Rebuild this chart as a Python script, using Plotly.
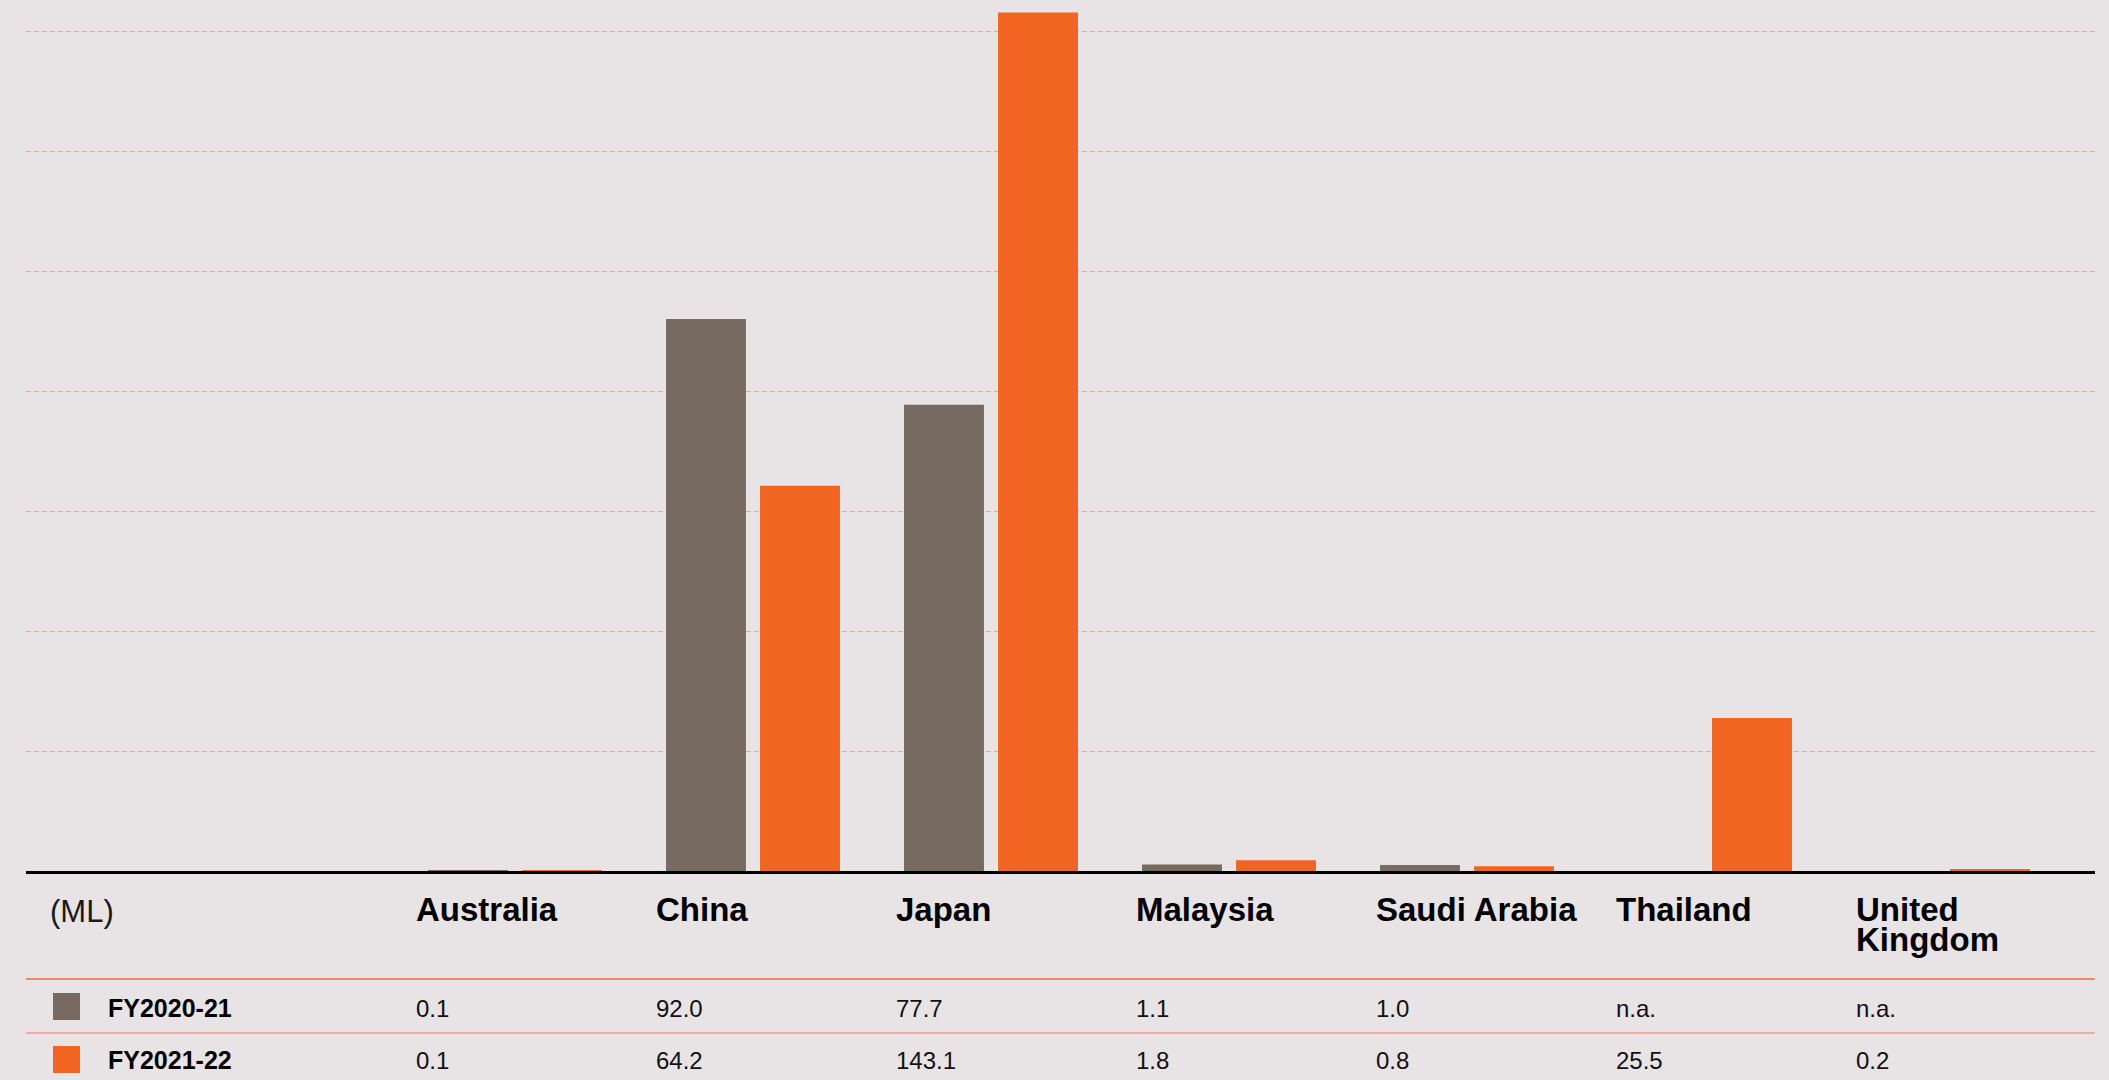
import plotly.graph_objects as go

# ---- data ----
countries = ["Australia", "China", "Japan", "Malaysia", "Saudi Arabia", "Thailand", "United Kingdom"]
header_labels = ["Australia", "China", "Japan", "Malaysia", "Saudi Arabia", "Thailand", "United<br>Kingdom"]
series_names = ["FY2020-21", "FY2021-22"]
fy2021 = [0.1, 92.0, 77.7, 1.1, 1.0, None, None]
fy2122 = [0.1, 64.2, 143.1, 1.8, 0.8, 25.5, 0.2]
unit_label = "(ML)"

# ---- style ----
W, H = 2109, 1080
BG = "#e8e3e5"
GREY = "#766a61"
ORANGE = "#f26422"
FONT = "Liberation Sans, Arial, Helvetica, sans-serif"

def px_x(p):
    return p / W

def px_y(p):
    return 1 - p / H

plot_left, plot_right, plot_bottom = 26, 2095, 871
px_per_unit = 6.0
cat_px = 238.0
first_center = 515.0

fig = go.Figure()
fig.add_trace(go.Bar(x=countries, y=fy2021, name=series_names[0], marker_color=GREY,
                     marker_line_width=0))
fig.add_trace(go.Bar(x=countries, y=fy2122, name=series_names[1], marker_color=ORANGE,
                     marker_line_width=0))

x0 = -(first_center - plot_left) / cat_px
x1 = (len(countries) - 1) + (plot_right - (first_center + (len(countries) - 1) * cat_px)) / cat_px

fig.update_layout(
    width=W, height=H,
    margin=dict(l=0, r=0, t=0, b=0),
    paper_bgcolor=BG, plot_bgcolor=BG,
    showlegend=False,
    barmode="group", bargap=0.21, bargroupgap=0.15,
    font=dict(family=FONT, color="#000"),
    xaxis=dict(
        type="category", domain=[px_x(plot_left), px_x(plot_right)],
        range=[x0, x1], showticklabels=False, ticks="", showgrid=False,
        showline=True, linecolor="#000", linewidth=3, fixedrange=True,
    ),
    yaxis=dict(
        domain=[px_y(plot_bottom), 1], range=[0, plot_bottom / px_per_unit],
        dtick=20, showticklabels=False, ticks="", zeroline=False,
        showgrid=True, gridcolor="#f1a398", gridwidth=1, griddash="5px,3px",
        fixedrange=True,
    ),
)

ann = []
shapes = []
col_left = 416
col_w = 240

# unit label
ann.append(dict(x=px_x(48), y=px_y(911), xref="paper", yref="paper", text=unit_label,
                showarrow=False, xanchor="left", yanchor="middle",
                font=dict(size=31, color="#1a1a1a", family=FONT)))

# header labels
for i, lab in enumerate(header_labels):
    lines = lab.split("<br>")
    for j, ln in enumerate(lines):
        ann.append(dict(x=px_x(col_left + i * col_w - 2), y=px_y(909 + j * 30), xref="paper", yref="paper",
                        text="<b>" + ln + "</b>", showarrow=False, xanchor="left", yanchor="middle",
                        font=dict(size=33, color="#000", family=FONT)))

# table rows
row_y = [1008, 1060]
sq_y = [(993, 1020), (1046, 1073)]
colors = [GREY, ORANGE]
for r, (name, vals) in enumerate(zip(series_names, [fy2021, fy2122])):
    shapes.append(dict(type="rect", xref="paper", yref="paper",
                       x0=px_x(53), x1=px_x(80), y0=px_y(sq_y[r][1]), y1=px_y(sq_y[r][0]),
                       fillcolor=colors[r], line=dict(width=0)))
    ann.append(dict(x=px_x(106), y=px_y(row_y[r]), xref="paper", yref="paper",
                    text="<b>" + name + "</b>", showarrow=False, xanchor="left", yanchor="middle",
                    font=dict(size=25, color="#000", family=FONT)))
    for i, v in enumerate(vals):
        txt = "n.a." if v is None else f"{v:.1f}"
        ann.append(dict(x=px_x(col_left + i * col_w - 2), y=px_y(row_y[r]), xref="paper", yref="paper",
                        text=txt, showarrow=False, xanchor="left", yanchor="middle",
                        font=dict(size=24, color="#111", family=FONT)))

# table rules
shapes.append(dict(type="line", xref="paper", yref="paper", x0=px_x(26), x1=px_x(2095),
                   y0=px_y(979), y1=px_y(979), line=dict(color="#e8703c", width=1.5)))
shapes.append(dict(type="line", xref="paper", yref="paper", x0=px_x(26), x1=px_x(2095),
                   y0=px_y(1033), y1=px_y(1033), line=dict(color="#f2aaa3", width=2)))

fig.update_layout(annotations=ann, shapes=shapes)
fig.write_html("out.html")
